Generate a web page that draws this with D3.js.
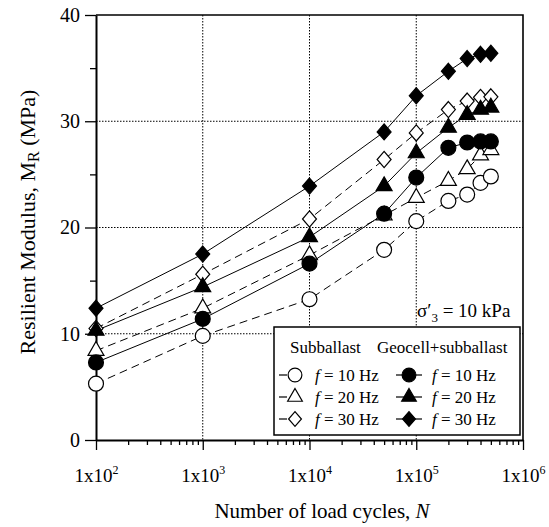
<!DOCTYPE html>
<html>
<head>
<meta charset="utf-8">
<script src="https://cdn.jsdelivr.net/npm/d3@7/dist/d3.min.js"></script>
<style>
  body { margin: 0; background: #fff; }
  svg { display: block; font-family: "Liberation Serif", "Times New Roman", serif; }
</style>
</head>
<body>
<svg id="chart" width="549" height="527"></svg>
<script>
// number of load cycles
var cycles = [100, 1000, 10000, 50000, 100000, 200000, 300000, 400000, 500000];

// resilient modulus (MPa), subballast alone
var sub10 = [5.3, 9.8, 13.25, 17.9, 20.6, 22.5, 23.1, 24.2, 24.8];
var sub20 = [8.4, 12.4, 17.4, 21.15, 22.8, 24.4, 25.5, 26.8, 27.3];
var sub30 = [10.5, 15.6, 20.8, 26.4, 28.9, 31.1, 31.9, 32.25, 32.3];

// resilient modulus (MPa), geocell + subballast
var geo10 = [7.3, 11.4, 16.6, 21.3, 24.7, 27.5, 28.0, 28.1, 28.1];
var geo20 = [10.3, 14.4, 19.1, 23.9, 27.0, 29.4, 30.6, 31.1, 31.3];
var geo30 = [12.4, 17.5, 23.9, 29.0, 32.4, 34.7, 35.9, 36.3, 36.4];

var xDecades = [1e2, 1e3, 1e4, 1e5, 1e6];
var yMajor = [0, 10, 20, 30, 40];
var yMinor = [5, 15, 25, 35];
var freqLabels = ['10', '20', '30'];

(function() {
  'use strict';

  var svg = d3.select('#chart');
  var left = 96, right = 523, top = 15, bottom = 440;

  var x = d3.scaleLog().domain([1e2, 1e6]).range([left, right]);
  var y = d3.scaleLinear().domain([0, 40]).range([bottom, top]);

  // custom marker shapes
  var diamond = {
    draw: function(ctx, size) {
      var r = Math.sqrt(size) / 2;
      ctx.moveTo(0, -r * 1.15);
      ctx.lineTo(r, 0);
      ctx.lineTo(0, r * 1.15);
      ctx.lineTo(-r, 0);
      ctx.closePath();
    }
  };
  var shapes = [
    { type: d3.symbolCircle, size: 175 },
    { type: d3.symbolTriangle, size: 110 },
    { type: diamond, size: 195 }
  ];

  var series = [
    { values: sub10, shape: 0, open: true },
    { values: sub20, shape: 1, open: true },
    { values: sub30, shape: 2, open: true },
    { values: geo10, shape: 0, open: false },
    { values: geo20, shape: 1, open: false },
    { values: geo30, shape: 2, open: false }
  ];

  // gridlines
  var grid = svg.append('g').attr('class', 'grid');
  grid.selectAll('line.gx')
    .data(xDecades.slice(1, -1))
    .enter()
    .append('line')
    .attr('x1', function(d) { return x(d); })
    .attr('x2', function(d) { return x(d); })
    .attr('y1', top)
    .attr('y2', bottom)
    .attr('stroke', '#000')
    .attr('stroke-width', 1)
    .attr('stroke-dasharray', '1.5,1.5');
  grid.selectAll('line.gy')
    .data(yMajor.slice(1, -1))
    .enter()
    .append('line')
    .attr('x1', left)
    .attr('x2', right)
    .attr('y1', function(d) { return y(d); })
    .attr('y2', function(d) { return y(d); })
    .attr('stroke', '#000')
    .attr('stroke-width', 1)
    .attr('stroke-dasharray', '1.5,1.5');

  // x axis
  var xTicks = [];
  xDecades.forEach(function(dec, i) {
    if (i === xDecades.length - 1) { xTicks.push(dec); return; }
    for (var k = 1; k < 10; k++) xTicks.push(dec * k);
  });
  var xAxis = svg.append('g')
    .attr('transform', 'translate(0,' + bottom + ')')
    .call(d3.axisBottom(x).tickValues(xTicks).tickSizeOuter(0).tickFormat(''))
    .attr('font-family', null)
    .attr('font-size', null);
  xAxis.selectAll('.tick line')
    .attr('stroke-width', 1.3)
    .attr('y2', function(d) { return xDecades.indexOf(d) >= 0 ? 10 : 5; });
  xAxis.select('.domain').attr('stroke-width', 2);
  xAxis.selectAll('.tick')
    .filter(function(d) { return xDecades.indexOf(d) >= 0; })
    .select('text')
    .attr('y', 42)
    .attr('dy', null)
    .attr('fill', '#000')
    .style('font-size', '19px')
    .each(function(d) {
      var t = d3.select(this);
      t.append('tspan').text('1x10');
      t.append('tspan')
        .attr('dy', -8)
        .style('font-size', '12px')
        .text(Math.round(Math.log10(d)));
    });

  // y axis
  var yAxis = svg.append('g')
    .attr('transform', 'translate(' + left + ',0)')
    .call(d3.axisLeft(y).tickValues(yMajor.concat(yMinor)).tickSizeOuter(0)
      .tickFormat(function(d) { return yMajor.indexOf(d) >= 0 ? d : ''; }))
    .attr('font-family', null)
    .attr('font-size', null);
  yAxis.selectAll('.tick line')
    .attr('stroke-width', 1.3)
    .attr('x2', function(d) { return yMajor.indexOf(d) >= 0 ? -11 : -6; });
  yAxis.selectAll('.tick text')
    .attr('x', -16)
    .attr('fill', '#000')
    .style('font-size', '20px');
  yAxis.select('.domain').attr('stroke-width', 2);

  // top and right frame
  svg.append('path')
    .attr('d', 'M' + left + ',' + top + 'H' + right + 'V' + bottom)
    .attr('fill', 'none')
    .attr('stroke', '#000')
    .attr('stroke-width', 1.6);

  // lines
  var line = d3.line()
    .x(function(d, i) { return x(cycles[i]); })
    .y(function(d) { return y(d); });
  svg.selectAll('path.series')
    .data(series)
    .enter()
    .append('path')
    .attr('class', 'series')
    .attr('d', function(s) { return line(s.values); })
    .attr('fill', 'none')
    .attr('stroke', '#000')
    .attr('stroke-width', 1)
    .attr('stroke-dasharray', function(s) { return s.open ? '8,5' : null; });

  // markers
  series.forEach(function(s) {
    var sym = d3.symbol().type(shapes[s.shape].type).size(shapes[s.shape].size);
    svg.append('g').selectAll('path')
      .data(s.values)
      .enter()
      .append('path')
      .attr('transform', function(d, i) {
        return 'translate(' + x(cycles[i]) + ',' + y(d) + ')';
      })
      .attr('d', sym)
      .attr('fill', s.open ? '#fff' : '#000')
      .attr('stroke', '#000')
      .attr('stroke-width', 1.2);
  });

  // confining pressure note
  var note = svg.append('text')
    .attr('x', 417)
    .attr('y', 317)
    .style('font-size', '19px');
  note.append('tspan').text('\u03c3\u2032');
  note.append('tspan').attr('dy', 5).style('font-size', '13px').text('3');
  note.append('tspan').attr('dy', -5).text(' = 10 kPa');

  // legend
  var lg = svg.append('g');
  lg.append('rect')
    .attr('x', 274)
    .attr('y', 327)
    .attr('width', 246)
    .attr('height', 108)
    .attr('fill', '#fff')
    .attr('stroke', '#000')
    .attr('stroke-width', 1.5);
  lg.append('text').attr('x', 290).attr('y', 353).style('font-size', '17px').text('Subballast');
  lg.append('text').attr('x', 377).attr('y', 353).style('font-size', '17px').text('Geocell+subballast');

  var rowY = [375, 397, 419];
  series.forEach(function(s, i) {
    var row = i % 3;
    var cy = rowY[row];
    var mx = s.open ? 295 : 409;
    var sym = d3.symbol().type(shapes[s.shape].type).size(shapes[s.shape].size * 0.85);
    lg.append('line')
      .attr('x1', s.open ? 279 : 396)
      .attr('x2', s.open ? 287 : 422)
      .attr('y1', cy)
      .attr('y2', cy)
      .attr('stroke', '#000')
      .attr('stroke-width', 1.2);
    lg.append('path')
      .attr('transform', 'translate(' + mx + ',' + cy + ')')
      .attr('d', sym)
      .attr('fill', s.open ? '#fff' : '#000')
      .attr('stroke', '#000')
      .attr('stroke-width', 1.2);
    var t = lg.append('text')
      .attr('x', s.open ? 315 : 432)
      .attr('y', cy + 6)
      .style('font-size', '17px');
    t.append('tspan').style('font-style', 'italic').text('f');
    t.append('tspan').text(' = ' + freqLabels[row] + ' Hz');
  });

  // axis titles
  var xt = svg.append('text')
    .attr('x', 322)
    .attr('y', 518)
    .attr('text-anchor', 'middle')
    .style('font-size', '21px');
  xt.append('tspan').text('Number of load cycles, ');
  xt.append('tspan').style('font-style', 'italic').text('N');

  var yt = svg.append('text')
    .attr('transform', 'translate(35,222) rotate(-90)')
    .attr('text-anchor', 'middle')
    .style('font-size', '22px');
  yt.append('tspan').text('Resilient Modulus, M');
  yt.append('tspan').attr('dy', 4).style('font-size', '16px').text('R');
  yt.append('tspan').attr('dy', -4).text(' (MPa)');
})();
</script>
</body>
</html>
